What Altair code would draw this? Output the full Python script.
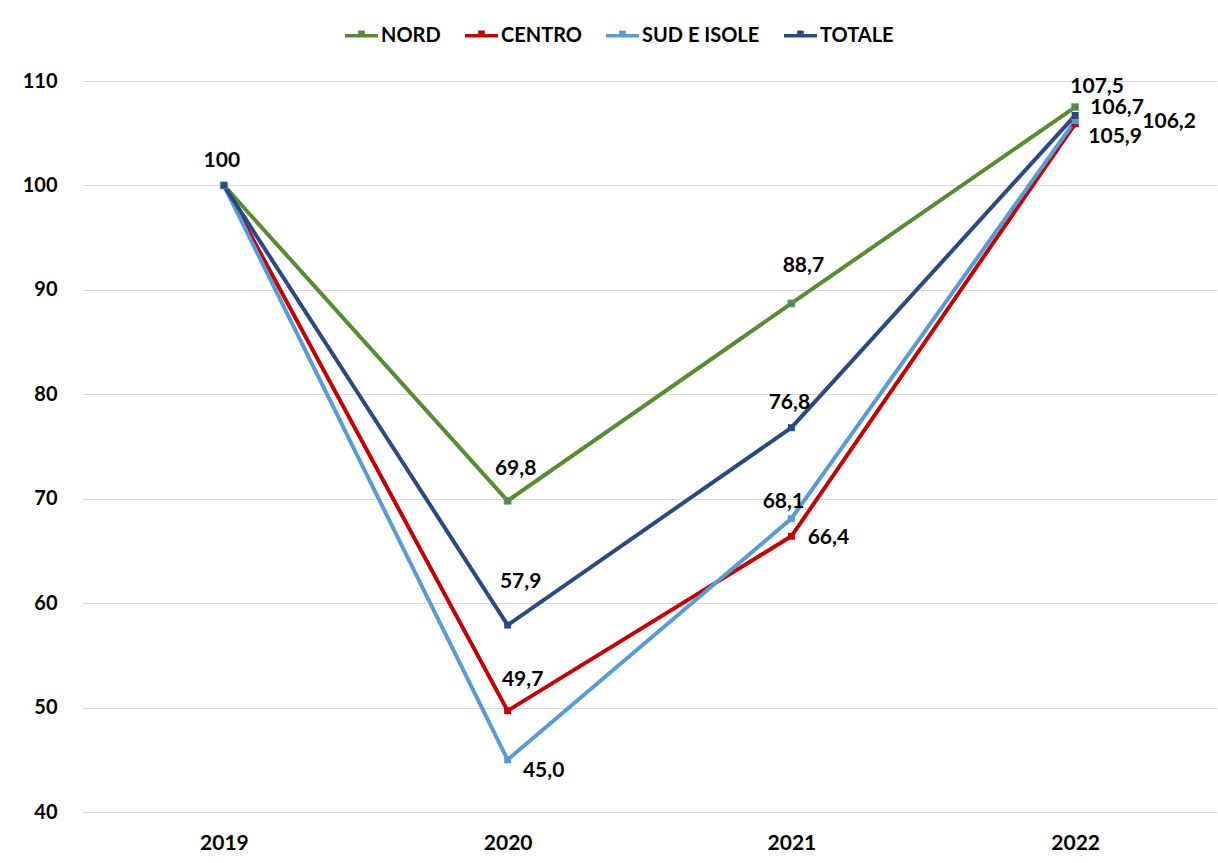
import altair as alt
import pandas as pd

# Index values (2019 = 100)
years = ["2019", "2020", "2021", "2022"]
series_names = ["NORD", "CENTRO", "SUD E ISOLE", "TOTALE"]
nord = [100, 69.8, 88.7, 107.5]
centro = [100, 49.7, 66.4, 105.9]
sud_isole = [100, 45.0, 68.1, 106.2]
totale = [100, 57.9, 76.8, 106.7]
y_ticks = [40, 50, 60, 70, 80, 90, 100, 110]

colors = ["#5a8a32", "#c00000", "#5b9bd5", "#2c4a80"]
FONT = "Lato"

rows = []
for name, vals in zip(series_names, [nord, centro, sud_isole, totale]):
    for yr, v in zip(years, vals):
        rows.append({"year": yr, "series": name, "value": v,
                     "label": f"{v:g}" if v == 100 else f"{v:.1f}".replace(".", ",")})
df = pd.DataFrame(rows)

# Where each value label sits relative to its point (dx, dy in px)
label_offsets = {
    ("NORD", "2020"): (8, -32), ("NORD", "2021"): (12, -37), ("NORD", "2022"): (22, -20),
    ("CENTRO", "2020"): (15, -31), ("CENTRO", "2021"): (37, 2), ("CENTRO", "2022"): (40, 13),
    ("SUD E ISOLE", "2020"): (36, 11), ("SUD E ISOLE", "2021"): (-8, -17),
    ("SUD E ISOLE", "2022"): (94, 1),
    ("TOTALE", "2019"): (-2, -24), ("TOTALE", "2020"): (13, -43),
    ("TOTALE", "2021"): (-2, -25), ("TOTALE", "2022"): (42, -7),
}

x_enc = alt.X("year:N", title=None, sort=years,
              scale=alt.Scale(padding=0.5),
              axis=alt.Axis(domain=False, ticks=False, labelAngle=0, labelPadding=20,
                            labelFont=FONT, labelFontSize=21, labelFontWeight="bold",
                            labelColor="#000000"))
y_enc = alt.Y("value:Q", title=None,
              scale=alt.Scale(domain=[40, 110], nice=False, zero=False),
              axis=alt.Axis(values=y_ticks, domain=False, ticks=False, grid=True,
                            gridColor="#d9d9d9", gridWidth=1, labelPadding=25,
                            labelFont=FONT, labelFontSize=20, labelFontWeight="bold",
                            labelColor="#000000"))
color_scale = alt.Scale(domain=series_names, range=colors)

# legend glyph: a short line with a small square marker on it
legend_symbol = ("M-1,-0.1 L1,-0.1 L1,0.1 L-1,0.1 Z "
                 "M-0.2,-0.32 L0.2,-0.32 L0.2,0.1 L-0.2,0.1 Z")
legend = alt.Legend(
    orient="none", legendX=263, legendY=-62, direction="horizontal",
    symbolType=legend_symbol, symbolSize=1089, symbolStrokeWidth=0,
    symbolOpacity=1,
    labelFont=FONT, labelFontSize=20, labelFontWeight="bold",
    labelColor="#000000", labelOffset=3, columnPadding=24)

base = alt.Chart(df)

lines = base.mark_line(strokeWidth=4).encode(
    x=x_enc, y=y_enc,
    color=alt.Color("series:N", scale=color_scale, sort=series_names, title=None,
                    legend=legend),
    order=alt.Order("year:N"),
)

squares = base.mark_square(size=49, opacity=1, strokeWidth=0).encode(
    x=x_enc, y=y_enc,
    fill=alt.Fill("series:N", scale=color_scale, sort=series_names, title=None,
                  legend=legend),
)

nord_outline = base.transform_filter(alt.datum.series == "NORD").mark_square(
    size=49, filled=False, stroke="#5b9bd5", strokeWidth=1
).encode(x=x_enc, y=y_enc)

text_layers = []
for (s, yr), (dx, dy) in label_offsets.items():
    text_layers.append(
        base.transform_filter((alt.datum.series == s) & (alt.datum.year == yr))
        .mark_text(dx=dx, dy=dy, font=FONT, fontSize=21, fontWeight="bold",
                   color="#000000", align="center", baseline="middle")
        .encode(x=x_enc, y=y_enc, text="label:N")
    )

chart = alt.layer(lines, squares, nord_outline, *text_layers).properties(
    width=1135, height=731,
    autosize=alt.AutoSizeParams(type="none"),
    padding={"left": 82, "top": 81, "right": 1, "bottom": 51},
    background="#ffffff",
).configure_view(stroke=None)

chart.save("out.html", embed_options={"renderer": "svg", "actions": False})
